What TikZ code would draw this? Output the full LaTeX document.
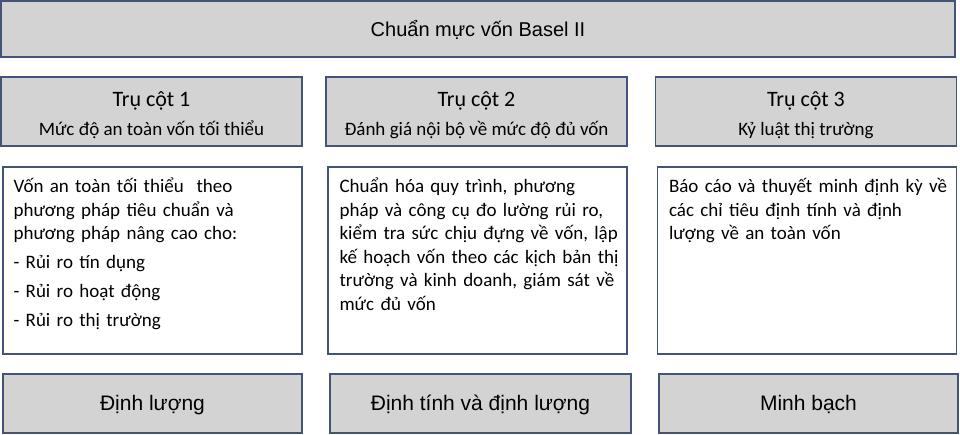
\documentclass[tikz,border=0pt]{standalone}
\usepackage{fontspec}
\setmainfont{Carlito}
\newfontfamily\headfont{Liberation Sans}
\definecolor{edge}{RGB}{67,84,120}
\definecolor{greyfill}{RGB}{211,211,211}
\newcommand{\topstrut}{\rule{0pt}{24pt}}
\newcommand{\botstrut}{\rule[-6pt]{0pt}{0pt}}
\begin{document}
\begin{tikzpicture}[x=1pt,y=-1pt,
    greybox/.style={draw=edge,line width=1.3pt,fill=greyfill,inner sep=0pt,align=center},
    whitebox/.style={draw=edge,line width=1.3pt,fill=white,inner sep=0pt,minimum width=299pt,minimum height=187pt},
    pillar/.style={greybox,minimum width=301pt,minimum height=69pt,font=\fontsize{19}{29}\selectfont},
    outcome/.style={greybox,minimum width=299pt,minimum height=59pt,text height=18.4pt,text depth=4pt,
        font=\headfont\fontsize{21}{24}\selectfont},
    body/.style={anchor=north west,align=left,inner sep=0pt,text width=285pt,font=\fontsize{19}{23.5}\selectfont}]
\useasboundingbox (0,0) rectangle (960,434);

\node[greybox,minimum width=954pt,minimum height=56pt,text height=19.4pt,text depth=4pt] (basel) at (478,29)
    {\headfont\fontsize{20}{22}\selectfont Chuẩn mực vốn Basel II};

\node[pillar] (p1) at (151.5,111.5) {\topstrut{\fontsize{22}{29}\selectfont Trụ cột 1}\\ Mức độ an toàn vốn tối thiểu\botstrut};
\node[pillar] (p2) at (476.5,111.5) {\topstrut{\fontsize{22}{29}\selectfont Trụ cột 2}\\ Đánh giá nội bộ về mức độ đủ vốn\botstrut};
\node[pillar] (p3) at (806,111.5) {\topstrut{\fontsize{22}{29}\selectfont Trụ cột 3}\\ Kỷ luật thị trường\botstrut};

\node[whitebox] (b1) at (152.5,260.5) {};
\node[whitebox] (b2) at (477.5,260.5) {};
\node[whitebox] (b3) at (807,260.5) {};

\node[body] (t1) at ([shift={(11,9.5)}]b1.north west) {\strut Vốn an toàn tối thiểu\ \ theo\\ phương pháp tiêu chuẩn và\\ phương pháp nâng cao cho:\\[5.5pt]
    - Rủi ro tín dụng\\[5.5pt] - Rủi ro hoạt động\\[5.5pt] - Rủi ro thị trường};
\node[body] (t2) at ([shift={(12,9.5)}]b2.north west) {\strut Chuẩn hóa quy trình, phương\\ pháp và công cụ đo lường rủi ro,\\ kiểm tra sức chịu đựng về vốn, lập\\
    kế hoạch vốn theo các kịch bản thị\\ trường và kinh doanh, giám sát về\\ mức đủ vốn};
\node[body] (t3) at ([shift={(12,9.5)}]b3.north west) {\strut Báo cáo và thuyết minh định kỳ về\\ các chỉ tiêu định tính và định\\ lượng về an toàn vốn};

\node[outcome] (o1) at (152.5,403.5) {Định lượng};
\node[outcome,minimum width=301pt] (o2) at (480.5,403.5) {Định tính và định lượng};
\node[outcome] (o3) at (808.5,403.5) {Minh bạch};
\end{tikzpicture}
\end{document}
